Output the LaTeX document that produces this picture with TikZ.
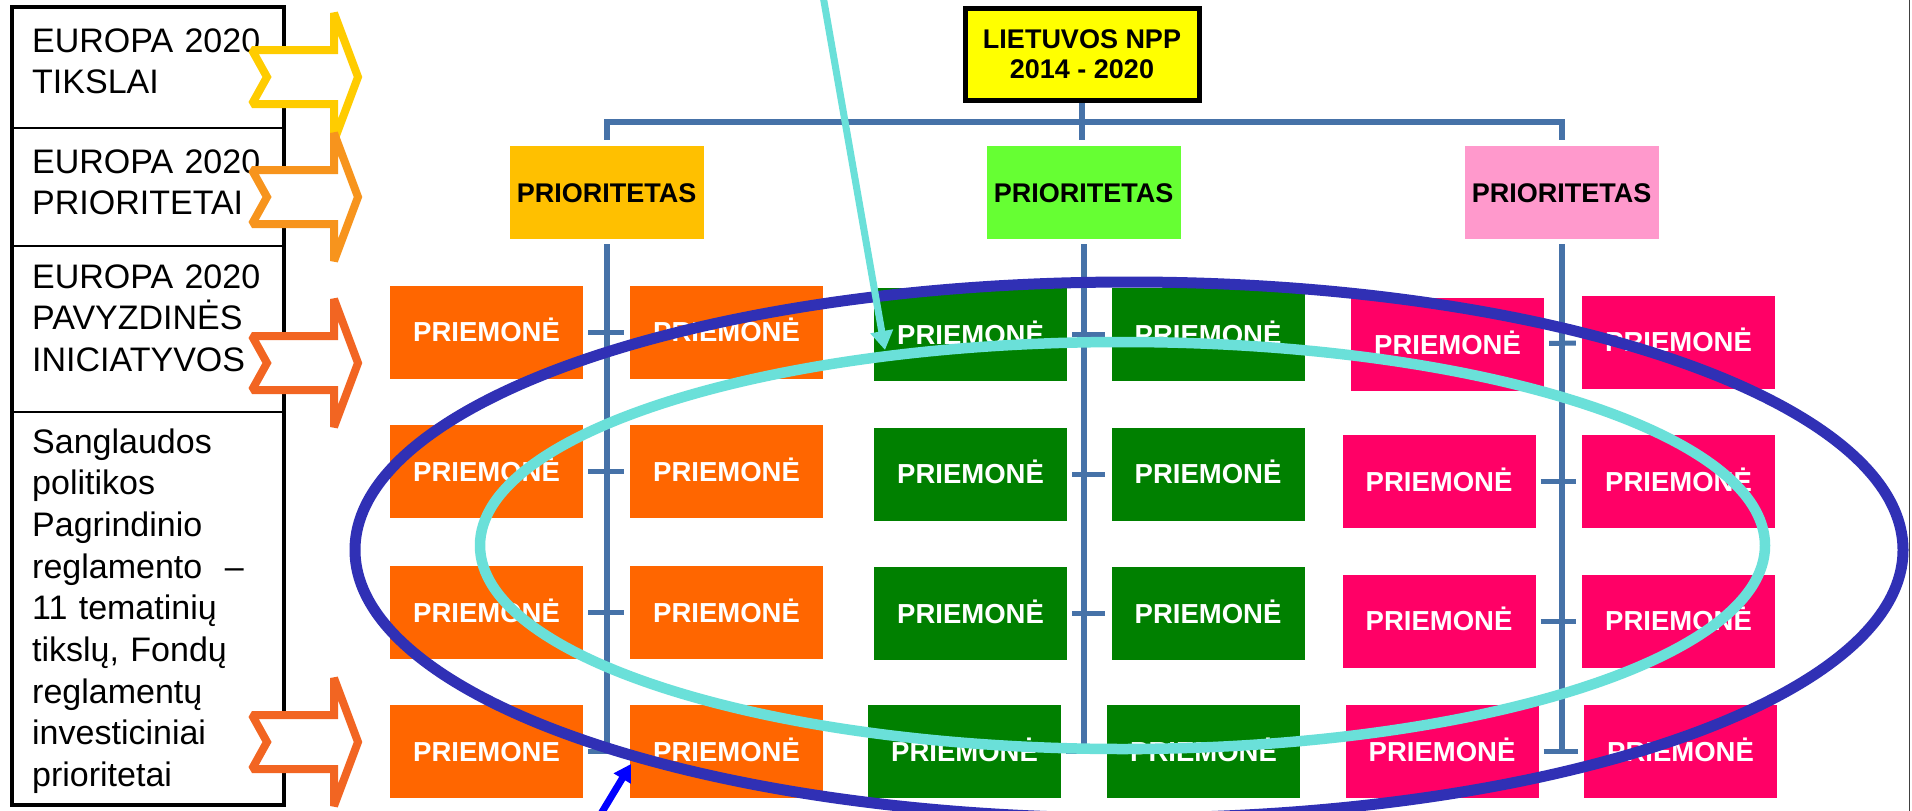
\documentclass[tikz,border=0pt]{standalone}
\usepackage{fontspec}
\setmainfont{Liberation Sans}
\usetikzlibrary{arrows.meta}
\definecolor{arrA}{HTML}{FFCC00}
\definecolor{arrB}{HTML}{F7941D}
\definecolor{arrC}{HTML}{F26522}
\definecolor{nppY}{HTML}{FFFF00}
\definecolor{prioA}{HTML}{FFC000}
\definecolor{prioB}{HTML}{66FF33}
\definecolor{prioC}{HTML}{FF99CC}
\definecolor{mOr}{HTML}{FF6600}
\definecolor{mGr}{HTML}{008000}
\definecolor{mPk}{HTML}{FF0066}
\definecolor{connC}{HTML}{4672A8}
\definecolor{ellB}{HTML}{3030B5}
\definecolor{ellC}{HTML}{6AE0D9}
\definecolor{arrBlue}{HTML}{0000FF}
\tikzset{
  tbltext/.style={anchor=base west, inner sep=0pt, text width=250pt, align=left,
    font=\fontsize{34}{41.7}\selectfont},
  nppbox/.style={rectangle, draw=black, line width=5pt, fill=nppY, inner sep=0pt,
    minimum width=234pt, minimum height=92pt, align=center,
    font=\fontsize{27}{30}\selectfont\bfseries},
  priobox/.style={rectangle, inner sep=0pt, minimum width=194pt, minimum height=93pt,
    font=\fontsize{27}{30}\selectfont\bfseries, text height=19.3pt, text depth=0pt},
  mbox/.style={rectangle, inner sep=0pt, minimum width=193pt, minimum height=93pt,
    text=white, font=\fontsize{27.5}{30}\selectfont\bfseries, text height=19.7pt, text depth=0pt},
  conn/.style={draw=connC, line width=6pt},
  stub/.style={draw=connC, line width=5pt, shorten <=5pt, shorten >=6pt},
  notcharrow/.style={line width=8pt, fill=white, line join=miter, miter limit=1.5},
}
\begin{document}
\begin{tikzpicture}[x=1pt,y=-1pt]
\useasboundingbox (0,0) rectangle (1912,811);
\clip (0,0) rectangle (1912,811);
\fill[white] (0,0) rectangle (1912,811);

% ---------- left table ----------
\draw[line width=4.5pt] (12,7) rectangle (284,805);
\draw[line width=2.5pt] (12,128) -- (284,128);
\draw[line width=2.5pt] (12,246) -- (284,246);
\draw[line width=2.5pt] (12,412) -- (284,412);
\node[tbltext] (t1) at (32,52) {EUROPA 2020\\TIKSLAI};
\node[tbltext] (t2) at (32,173) {EUROPA 2020\\PRIORITETAI};
\node[tbltext] (t3) at (32,288) {EUROPA 2020\\PAVYZDINĖS\\INICIATYVOS};
\node[tbltext] (t4) at (32,453) {Sanglaudos\\politikos\\Pagrindinio\\reglamento~ –\\11 tematinių\\tikslų, Fondų\\reglamentų\\investiciniai\\prioritetai};

% ---------- notched arrows ----------
\foreach \cy/\col in {77/arrA,197/arrB,363/arrC,742/arrC}{
  \draw[notcharrow, draw=\col] (252,{\cy-27}) -- (334,{\cy-27}) -- (334,{\cy-64})
    -- (358,\cy) -- (334,{\cy+64}) -- (334,{\cy+27}) -- (252,{\cy+27}) -- (267,\cy) -- cycle;
}

% ---------- top of hierarchy ----------
\node[nppbox] (npp) at (1082,54.5) {LIETUVOS NPP\\2014 - 2020};
\node[priobox, fill=prioA] (p1) at (606.5,192.5) {PRIORITETAS};
\node[priobox, fill=prioB] (p2) at (1083.5,192.5) {PRIORITETAS};
\node[priobox, fill=prioC] (p3) at (1561.5,192.5) {PRIORITETAS};

% ---------- measures ----------
\foreach \n/\yy/\txt in {1/332/PRIEMONĖ,2/471.5/PRIEMONĖ,3/612.5/PRIEMONĖ,4/751.5/PRIEMONE}{
  \node[mbox, fill=mOr] (o\n1) at (486.5,\yy) {\txt};
}
\foreach \n/\yy in {1/332,2/471.5,3/612.5,4/751.5}{
  \node[mbox, fill=mOr] (o\n2) at (726.5,\yy) {PRIEMONĖ};
}
\foreach \n/\yy in {1/334.5,2/474,3/613.5}{
  \node[mbox, fill=mGr] (g\n1) at (970.5,\yy) {PRIEMONĖ};
  \node[mbox, fill=mGr] (g\n2) at (1208,\yy) {PRIEMONĖ};
}
\node[mbox, fill=mGr] (g41) at (964.5,751.5) {PRIEMONĖ};
\node[mbox, fill=mGr] (g42) at (1203.5,751.5) {PRIEMONĖ};
\node[mbox, fill=mPk] (k11) at (1447.5,344.5) {PRIEMONĖ};
\node[mbox, fill=mPk] (k12) at (1678.5,342) {PRIEMONĖ};
\node[mbox, fill=mPk] (k21) at (1439,481.5) {PRIEMONĖ};
\node[mbox, fill=mPk] (k22) at (1678.5,481.5) {PRIEMONĖ};
\node[mbox, fill=mPk] (k31) at (1439,621) {PRIEMONĖ};
\node[mbox, fill=mPk] (k32) at (1678.5,621) {PRIEMONĖ};
\node[mbox, fill=mPk] (k41) at (1442,751.5) {PRIEMONĖ};
\node[mbox, fill=mPk] (k42) at (1680.5,751.5) {PRIEMONĖ};

% ---------- connectors ----------
\coordinate (bar) at (1083.5,122);
\draw[conn] (npp.south) -- ([yshift=6pt]npp.south |- p2.north);
\draw[conn] ([yshift=6pt]p1.north) |- (bar) -| ([yshift=6pt]p3.north);
\draw[conn] ([yshift=-5pt]p1.south) -- (p1 |- o41);
\draw[conn] ([yshift=-5pt]p2.south) -- (p2 |- g42);
\draw[conn] ([yshift=-5pt]p3.south) -- (p3 |- k41);
\foreach \r in {1,2,3,4}{
  \draw[stub] (o\r1) -- (o\r2);
  \draw[stub] (g\r1) -- (g\r2);
  \draw[stub] (k\r1) -- (k\r2);
}

% ---------- ellipses ----------
\draw[draw=ellB, line width=11pt] (1129,550) ellipse [x radius=774pt, y radius=268pt];
\draw[draw=ellC, line width=10.5pt] (1122.5,545.5) ellipse [x radius=642.5pt, y radius=203.5pt];

% ---------- pointer arrows ----------
\coordinate (ca0) at (822,-10);
\coordinate (ca1) at (885,350);
\draw[draw=ellC, line width=7pt, -{Triangle[width=22pt,length=19pt]}] (ca0) -- (ca1);
\coordinate (ba0) at (596,822);
\coordinate (ba1) at (631,764);
\draw[draw=arrBlue, line width=7pt, -{Triangle[width=19pt,length=17pt]}] (ba0) -- (ba1);

% right frame edge
\draw[line width=1.5pt, black!75] (1909.5,0) -- (1909.5,811);
\end{tikzpicture}
\end{document}
